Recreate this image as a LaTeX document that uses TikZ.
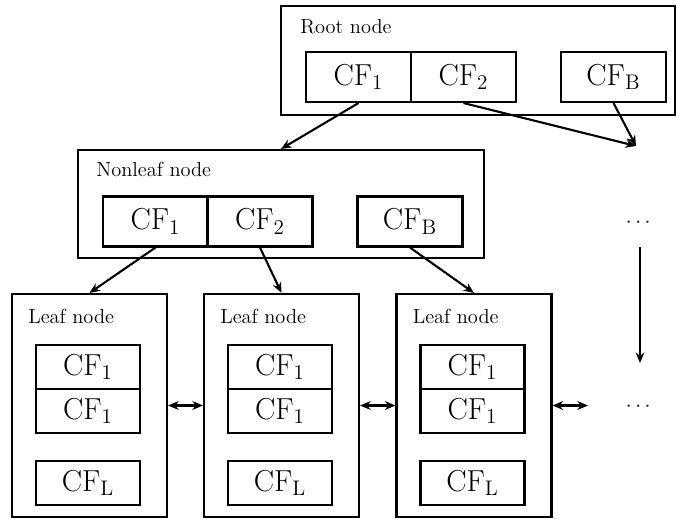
\documentclass[tikz,border=0pt]{standalone}
\usetikzlibrary{calc}
\usetikzlibrary{arrows.meta}
\usepackage{amsmath, amssymb}

\begin{document}
\begin{tikzpicture}[x=0.02cm, y=-0.02cm]
        % ================= 样式定义 =================
        \tikzset{
            % 外框:根节点 / 非叶节点 / 叶节点
            outerbox/.style={draw=black, line width=1.2pt, rectangle, inner sep=0pt},
            % CF 条目
            cfbox/.style={draw=black, line width=1.2pt, rectangle, inner sep=0pt, minimum width=2.1cm, minimum height=1.0cm, font=\fontsize{16.5}{19}\selectfont},
            % 叶节点里的 CF 条目 (稍矮)
            leafcf/.style={cfbox, minimum width=2.08cm, minimum height=0.88cm},
            % 框内标题
            lbl/.style={anchor=north west, inner sep=0pt, font=\fontsize{11.6}{14}\selectfont},
            % 连边
            link/.style={line width=1.2pt, -{Stealth[length=6pt, width=5pt]}},
            twoway/.style={line width=1.2pt, {Stealth[length=6pt, width=5pt]}-{Stealth[length=6pt, width=5pt]}},
            dotsnode/.style={inner sep=0pt, font=\fontsize{12}{14}\selectfont}
        }
        \useasboundingbox (0,0) rectangle (676,519);

        % ================= 1. 根节点 =================
        \node[outerbox, minimum width=7.88cm, minimum height=2.18cm] (root) at (478,60.5) {};
        \node[lbl] (rootlbl) at ($(root.north west)+(20,14)$) {Root node};
        \node[cfbox] (rcf1) at (358.5,77) {$\mathrm{CF}_1$};
        \node[cfbox] (rcf2) at (463.5,77) {$\mathrm{CF}_2$};
        \node[cfbox] (rcfb) at (613.5,77) {$\mathrm{CF}_\mathrm{B}$};

        % ================= 2. 非叶节点 =================
        \node[outerbox, minimum width=8.12cm, minimum height=2.16cm] (nonleaf) at (281,204) {};
        \node[lbl] (nonleaflbl) at ($(nonleaf.north west)+(19,13)$) {Nonleaf node};
        \node[cfbox] (ncf1) at (155.5,221.5) {$\mathrm{CF}_1$};
        \node[cfbox] (ncf2) at (260,221.5) {$\mathrm{CF}_2$};
        \node[cfbox] (ncfb) at (410,221.5) {$\mathrm{CF}_\mathrm{B}$};

        % ================= 3. 叶节点 =================
        \foreach \i/\cx in {1/89.5, 2/281.5, 3/474} {
            \node[outerbox, minimum width=3.1cm, minimum height=4.46cm] (leaf\i) at (\cx,405.5) {};
            \node[lbl] (leaflbl\i) at ($(leaf\i.north west)+(17,16)$) {Leaf node};
            \node[leafcf] (lcfa\i) at (\cx-1.5,367) {$\mathrm{CF}_1$};
            \node[leafcf] (lcfb\i) at (\cx-1.5,411) {$\mathrm{CF}_1$};
            \node[leafcf] (lcfl\i) at (\cx-1.5,483) {$\mathrm{CF}_\mathrm{L}$};
        }

        % ================= 4. 省略部分 =================
        \node[dotsnode] (dotsup) at (640,223) {$\cdots$};
        \node[dotsnode] (dotsdown) at (640,407) {$\cdots$};
        \coordinate (more) at (636,146);
        \coordinate (vtop) at (640,247);
        \coordinate (vbot) at (640,363);
        \coordinate (next) at (588,405.5);

        % ================= 5. 绘制边 =================
        \draw[link] (rcf1.south) -- (nonleaf.north);
        \draw[link] (rcf2.south) -- (more);
        \draw[link] (rcfb.south) -- (more);

        \draw[link] (ncf1.south) -- (leaf1.north);
        \draw[link] (ncf2.south) -- (leaf2.north);
        \draw[link] (ncfb.south) -- (leaf3.north);

        \draw[link] (vtop) -- (vbot);

        % --- 叶节点之间的双向链 ---
        \draw[twoway] (leaf1.east) -- (leaf2.west);
        \draw[twoway] (leaf2.east) -- (leaf3.west);
        \draw[twoway] (leaf3.east) -- (next);

    \end{tikzpicture}
\end{document}
